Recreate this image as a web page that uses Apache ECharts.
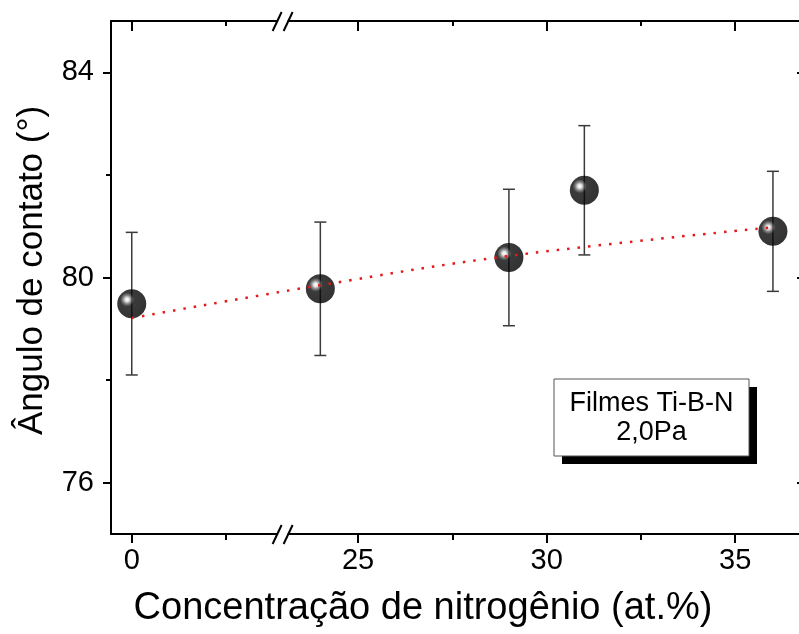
<!DOCTYPE html>
<html>
<head>
<meta charset="utf-8">
<script src="https://cdn.jsdelivr.net/npm/echarts@6/dist/echarts.min.js"></script>
<style>
  html, body { margin: 0; padding: 0; background: #fff; }
  #chart { width: 799px; height: 634px; }
</style>
</head>
<body>
<div id="chart"></div>
<script>
// values
const nitrogen = [0, 24, 29, 31, 36];
const angle = [79.49, 79.78, 80.39, 81.70, 80.90];
const angleErr = [1.39, 1.30, 1.33, 1.26, 1.17];
const fitX = [0, 24, 29, 36];
const fitY = [79.21, 79.85, 80.42, 80.98];
const xMajor = [0, 25, 30, 35];
const xMinor = [2.5, 27.5, 32.5];
const yMajor = [76, 80, 84];
const yMinor = [78, 82];

const FONT = "'Liberation Sans', Arial, sans-serif";
const axisBreak = [{ start: 4, end: 23, gap: 0 }];

const myChart = echarts.init(document.getElementById('chart'));

function xAx(position, ticks, len, inside, showLine, showLabel) {
  return {
    type: 'value',
    position: position,
    min: -0.55,
    max: 36.85,
    breaks: axisBreak,
    breakArea: { show: false },
    axisLine: { show: showLine, onZero: false, lineStyle: { color: '#000', width: 2 } },
    axisTick: { show: true, inside: inside, length: len, customValues: ticks, lineStyle: { color: '#000', width: 2 } },
    axisLabel: showLabel
      ? { show: true, customValues: ticks, fontSize: 29, color: '#000', fontFamily: FONT, margin: 12 }
      : { show: false },
    splitLine: { show: false },
  };
}

function yAx(position, ticks, len, inside, showLine, showLabel) {
  return {
    type: 'value',
    position: position,
    min: 75,
    max: 85,
    axisLine: { show: showLine, onZero: false, lineStyle: { color: '#000', width: 2 } },
    axisTick: { show: true, inside: inside, length: len, customValues: ticks, lineStyle: { color: '#000', width: 2 } },
    axisLabel: showLabel
      ? { show: true, customValues: ticks, fontSize: 29, color: '#000', fontFamily: FONT, margin: 17 }
      : { show: false },
    splitLine: { show: false },
  };
}

const xBottom = xAx('bottom', xMajor, 9, false, true, true);
xBottom.name = 'Concentração de nitrogênio (at.%)';
xBottom.nameLocation = 'middle';
xBottom.nameGap = 56;
xBottom.nameTextStyle = { fontSize: 38, color: '#000', fontFamily: FONT, padding: [0, 70, 0, 0] };

const yLeft = yAx('left', yMajor, 8, false, true, true);
yLeft.name = 'Ângulo de contato (°)';
yLeft.nameLocation = 'middle';
yLeft.nameGap = 61;
yLeft.nameTextStyle = { fontSize: 35, color: '#000', fontFamily: FONT, padding: [0, 0, 0, 14] };

const errData = nitrogen.map((x, i) => [x, angle[i] - angleErr[i], angle[i] + angleErr[i]]);

const option = {
  animation: false,
  backgroundColor: '#fff',
  grid: { left: 111, width: 694, top: 21, bottom: 100, containLabel: false, outerBoundsMode: 'none' },
  xAxis: [
    xBottom,
    xAx('bottom', xMinor, 6, false, false, false),
    xAx('top', xMajor, 10, true, true, false),
    xAx('top', xMinor, 5, true, false, false),
  ],
  yAxis: [
    yLeft,
    yAx('left', yMinor, 5, false, false, false),
    yAx('right', yMajor, 8, true, true, false),
    yAx('right', yMinor, 5, true, false, false),
  ],
  series: [
    {
      name: 'error',
      type: 'custom',
      xAxisIndex: 0,
      yAxisIndex: 0,
      z: 1,
      renderItem: function (params, api) {
        const x = api.value(0);
        const lo = api.coord([x, api.value(1)]);
        const hi = api.coord([x, api.value(2)]);
        const cap = 6;
        const style = { stroke: '#3a3a3a', lineWidth: 1.5 };
        return {
          type: 'group',
          children: [
            { type: 'line', shape: { x1: lo[0], y1: lo[1], x2: hi[0], y2: hi[1] }, style: style },
            { type: 'line', shape: { x1: lo[0] - cap, y1: lo[1], x2: lo[0] + cap, y2: lo[1] }, style: style },
            { type: 'line', shape: { x1: hi[0] - cap, y1: hi[1], x2: hi[0] + cap, y2: hi[1] }, style: style },
          ],
        };
      },
      encode: { x: 0, y: [1, 2] },
      data: errData,
    },
    {
      name: 'angle',
      type: 'scatter',
      xAxisIndex: 0,
      yAxisIndex: 0,
      z: 2,
      symbol: 'circle',
      symbolSize: 29,
      itemStyle: {
        color: {
          type: 'radial', x: 0.34, y: 0.36, r: 0.66,
          colorStops: [
            { offset: 0, color: '#ffffff' },
            { offset: 0.1, color: '#e0e0e0' },
            { offset: 0.22, color: '#6a6a6a' },
            { offset: 0.36, color: '#0a0a0a' },
            { offset: 1, color: '#000000' },
          ],
        },
      },
      data: nitrogen.map((x, i) => [x, angle[i]]),
    },
    {
      name: 'fit',
      type: 'line',
      xAxisIndex: 0,
      yAxisIndex: 0,
      z: 3,
      smooth: 0.4,
      showSymbol: false,
      lineStyle: { color: '#e41a1a', width: 2.5, type: [2.5, 8] },
      data: fitX.map((x, i) => [x, fitY[i]]),
    },
  ],
};

myChart.setOption(option);

// axis break marks "//" and the annotation box
const bx = myChart.convertToPixel({ xAxisIndex: 0 }, 4);
const yTop = myChart.convertToPixel({ yAxisIndex: 0 }, 85);
const yBot = myChart.convertToPixel({ yAxisIndex: 0 }, 75);

function breakMark(cx, cy) {
  const ls = { stroke: '#000', lineWidth: 2 };
  return [
    { type: 'rect', shape: { x: cx - 5, y: cy - 2.5, width: 10, height: 5 }, style: { fill: '#fff' }, z: 50 },
    { type: 'line', shape: { x1: cx - 10, y1: cy + 10, x2: cx - 1, y2: cy - 9 }, style: ls, z: 51 },
    { type: 'line', shape: { x1: cx + 1, y1: cy + 10, x2: cx + 10, y2: cy - 9 }, style: ls, z: 51 },
  ];
}

myChart.setOption({
  graphic: [
    ...breakMark(bx, yTop),
    ...breakMark(bx, yBot),
    { type: 'rect', shape: { x: 562, y: 387, width: 195, height: 77 }, style: { fill: '#000' }, z: 60 },
    { type: 'rect', shape: { x: 554, y: 379, width: 195, height: 77 }, style: { fill: '#fff', stroke: '#555', lineWidth: 1 }, z: 61 },
    {
      type: 'text', x: 651.5, y: 418, z: 62,
      style: {
        text: 'Filmes Ti-B-N\n2,0Pa', fill: '#000', font: '27px ' + FONT,
        align: 'center', verticalAlign: 'middle', lineHeight: 29,
      },
    },
  ],
});
</script>
</body>
</html>
